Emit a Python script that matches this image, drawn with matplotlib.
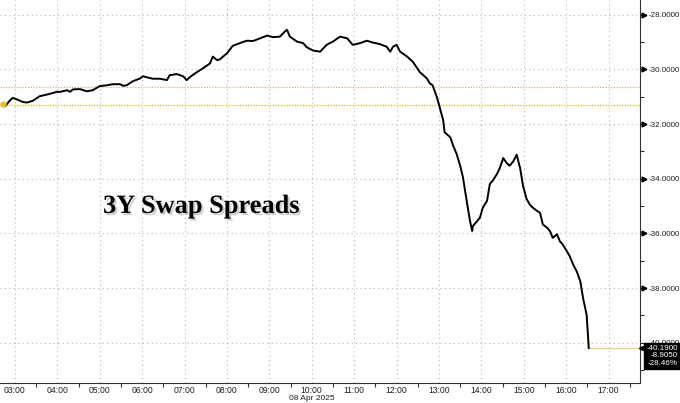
import numpy as np
import pandas as pd
import matplotlib
matplotlib.use("Agg")
import matplotlib.pyplot as plt
import matplotlib.dates as mdates
import matplotlib.patheffects as pe
import matplotlib.transforms as mtransforms

## Data (08 Apr 2025, 3Y swap spread, bp)
times = ["02:43", "02:46", "02:53", "02:57", "03:03", "03:11", "03:17", "03:25", "03:35", "03:45",
         "03:54", "03:59", "04:04", "04:14", "04:18", "04:22", "04:32", "04:42", "04:50", "05:00",
         "05:10", "05:19", "05:29", "05:33", "05:38", "05:47", "05:57", "06:01", "06:07", "06:15",
         "06:25", "06:35", "06:39", "06:49", "06:58", "07:03", "07:08", "07:18", "07:26", "07:36",
         "07:40", "07:46", "07:50", "08:00", "08:08", "08:18", "08:28", "08:37", "08:47", "08:57",
         "09:05", "09:15", "09:22", "09:25", "09:29", "09:39", "09:48", "09:53", "10:02", "10:12",
         "10:21", "10:30", "10:40", "10:50", "10:58", "11:08", "11:18", "11:27", "11:36", "11:46",
         "11:51", "11:55", "12:00", "12:05", "12:15", "12:23", "12:33", "12:43", "12:47", "12:51",
         "12:57", "13:01", "13:06", "13:08", "13:16", "13:20", "13:25", "13:30", "13:34", "13:37",
         "13:40", "13:44", "13:47", "13:48", "13:54", "13:58", "14:02", "14:08", "14:12", "14:16",
         "14:22", "14:26", "14:31", "14:36", "14:40", "14:45", "14:50", "14:55", "14:59", "15:04",
         "15:09", "15:13", "15:19", "15:23", "15:27", "15:33", "15:37", "15:41", "15:47", "15:51",
         "15:55", "16:01", "16:05", "16:10", "16:15", "16:20", "16:24", "16:29", "16:32"]
spread = [-31.28, -31.35, -31.13, -31.04, -31.10, -31.19, -31.21, -31.15, -30.98, -30.92,
          -30.86, -30.82, -30.82, -30.76, -30.82, -30.73, -30.72, -30.80, -30.76, -30.61,
          -30.58, -30.54, -30.54, -30.60, -30.58, -30.43, -30.33, -30.25, -30.29, -30.34,
          -30.34, -30.39, -30.21, -30.17, -30.25, -30.39, -30.27, -30.09, -29.96, -29.78,
          -29.53, -29.66, -29.63, -29.41, -29.14, -29.04, -28.95, -28.96, -28.86, -28.76,
          -28.82, -28.80, -28.61, -28.55, -28.80, -28.98, -29.04, -29.19, -29.31, -29.35,
          -29.10, -28.98, -28.80, -28.86, -29.10, -29.04, -28.95, -29.02, -29.07, -29.17,
          -29.35, -29.17, -29.10, -29.35, -29.53, -29.72, -30.10, -30.33, -30.51, -30.58,
          -31.01, -31.38, -31.86, -32.30, -32.48, -32.78, -33.09, -33.52, -33.95, -34.44,
          -34.93, -35.55, -35.91, -35.73, -35.55, -35.42, -35.06, -34.81, -34.19, -34.07,
          -33.83, -33.61, -33.24, -33.43, -33.52, -33.37, -33.12, -33.63, -34.26, -34.74,
          -34.96, -35.06, -35.18, -35.24, -35.67, -35.79, -35.91, -36.16, -36.03, -36.28,
          -36.40, -36.65, -36.83, -37.14, -37.39, -37.75, -38.37, -38.98, -40.19]

open_level = -31.285    # yellow reference line
prev_level = -30.65     # orange reference line
last_labels = ["-40.1900", "-8.9050", "-28.46%"]
title_text = "3Y Swap Spreads"
date_label = "08 Apr 2025"

plt.rcParams["font.family"] = ["Liberation Sans", "DejaVu Sans"]

t = pd.to_datetime(["2025-04-08 " + s for s in times])
t0 = pd.Timestamp("2025-04-08 02:38:50")
t1 = pd.Timestamp("2025-04-08 17:44:30")

fig = plt.figure(figsize=(6.8, 4.03), dpi=100)
ax = fig.add_axes([0.0, 20 / 403, 640 / 680, 383 / 403])

grid_style = dict(color="#b4b4b4", lw=0.8, ls=(0, (1, 3)))
ax.grid(True, which="major", **grid_style)
ax.set_axisbelow(True)

# reference lines
ax.axhline(prev_level, color="#f0a868", lw=0.9, ls=(0, (1, 1.2)))
ax.axhline(open_level, color="#dcbc10", lw=0.9, ls=(0, (1, 1.2)))

# the series
ax.plot(t, spread, color="black", lw=1.4, zorder=3)
ax.plot(t[0], spread[0], "o", color="#e8c020", ms=3.5, zorder=4)
ax.plot([t[-1], t1], [spread[-1], spread[-1]], color="#ecd28a", lw=1.0, zorder=2)

ax.set_xlim(t0, t1)
ax.set_ylim(-41.47, -27.46)

# axes styling
for side in ["top", "left"]:
    ax.spines[side].set_visible(False)
ax.spines["bottom"].set_color("#303030")
ax.spines["right"].set_color("#303030")

ax.xaxis.set_major_locator(mdates.HourLocator())
ax.xaxis.set_major_formatter(mdates.DateFormatter("%H:%M"))
ax.xaxis.set_minor_locator(mdates.MinuteLocator(byminute=[30]))
ax.tick_params(axis="x", which="major", length=0, labelsize=6.2, pad=2, colors="#202020")
ax.tick_params(axis="x", which="minor", length=3, width=0.8, color="#303030")

ax.yaxis.tick_right()
ax.set_yticks(np.arange(-40, -27, 2))
ax.set_yticks(np.arange(-41, -27, 2), minor=True)
ax.yaxis.set_major_formatter(matplotlib.ticker.FormatStrFormatter("%.4f"))
ax.tick_params(axis="y", which="major", length=4, width=0.8, labelsize=5.8, pad=2, colors="#202020")
ax.tick_params(axis="y", which="minor", length=3, width=0.8, color="#303030")

# little arrowheads at the major y ticks
trans = mtransforms.blended_transform_factory(ax.transAxes, ax.transData)
ax.plot(np.full(6, 1.006), np.arange(-38, -27, 2), marker=">", color="black", ms=3.5,
        ls="none", transform=trans, clip_on=False)

# date below the 10:00 label
ax.text(pd.Timestamp("2025-04-08 10:00"), -0.031, date_label,
        transform=mtransforms.blended_transform_factory(ax.transData, ax.transAxes),
        ha="center", va="top", fontsize=6.0, color="#202020")

# big title with drop shadow
ax.text(0.161, 0.444, title_text, transform=ax.transAxes, fontsize=19, fontweight="bold",
        family="Liberation Serif", color="black", va="baseline", ha="left",
        path_effects=[pe.withSimplePatchShadow(offset=(1.5, -1.5), shadow_rgbFace="#808080", alpha=0.4)])

# last value box
ax.annotate("\n".join(last_labels), xy=(1.0, spread[-1]), xycoords=trans,
            xytext=(1.0 + 38 / 640, spread[-1] + 0.12), textcoords=trans,
            ha="right", va="top", fontsize=5.8, color="white", linespacing=1.1,
            bbox=dict(boxstyle="square,pad=0.25", fc="black", ec="black"), zorder=10,
            annotation_clip=False)
ax.plot([1.001], [spread[-1]], marker="<", color="black", ms=3, transform=trans, clip_on=False, zorder=9)

fig.savefig("out.png", dpi=100)
